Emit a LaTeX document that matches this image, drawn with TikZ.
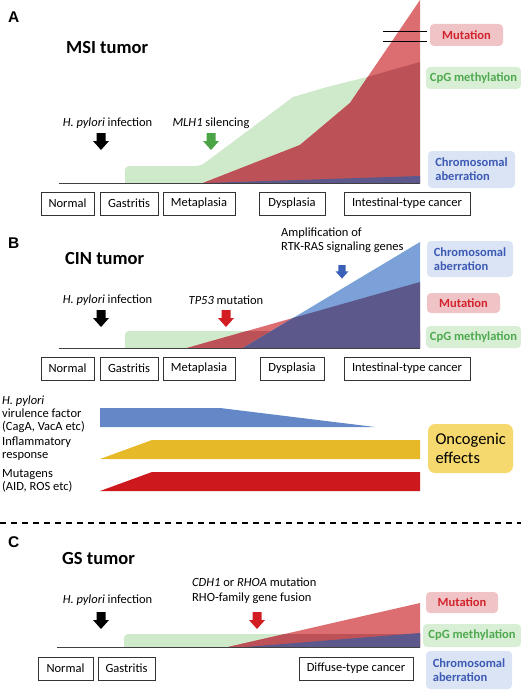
\documentclass[tikz,border=0pt]{standalone}
\usepackage{fontspec}
\setmainfont{Carlito}
\newfontfamily\panelfont{Liberation Sans}
\definecolor{mutfill}{HTML}{DC6E72}
\definecolor{mutdark}{HTML}{BC5257}
\definecolor{cpgfill}{HTML}{CFEACA}
\definecolor{chrlight}{HTML}{7CA0D8}
\definecolor{chrdark}{HTML}{5C588C}
\definecolor{muttagfill}{HTML}{F0C4C6}
\definecolor{muttext}{HTML}{D2232D}
\definecolor{cpgtagfill}{HTML}{D8EED5}
\definecolor{cpgtext}{HTML}{4FA94F}
\definecolor{chrtagfill}{HTML}{DAE4F5}
\definecolor{chrtext}{HTML}{3C5AB4}
\definecolor{arrgreen}{HTML}{4BA546}
\definecolor{arrred}{HTML}{D21E23}
\definecolor{arrblue}{HTML}{3A60B8}
\definecolor{bandblue}{HTML}{6487C8}
\definecolor{bandyellow}{HTML}{E6B928}
\definecolor{bandred}{HTML}{CD191E}
\definecolor{oncofill}{HTML}{F5D86E}
\definecolor{axisgray}{HTML}{404040}
\tikzset{
  stagebox/.style={draw=black!80, line width=0.9pt, minimum height=23pt, inner sep=0pt, font=\fontsize{12.5}{14}\selectfont},
  tagbox/.style={rounded corners=4pt, inner sep=0pt, font=\bfseries\fontsize{12.5}{14}\selectfont},
  muttag/.style={tagbox, fill=muttagfill, text=muttext},
  cpgtag/.style={tagbox, fill=cpgtagfill, text=cpgtext},
  chrtag/.style={tagbox, fill=chrtagfill, text=chrtext, align=left},
  lbl/.style={font=\fontsize{12.5}{14}\selectfont, inner sep=0pt},
  sidelbl/.style={font=\fontsize{12.5}{12.8}\selectfont, inner sep=0pt, anchor=west, align=left},
  titlelbl/.style={font=\bfseries\fontsize{18.5}{20}\selectfont, anchor=west, inner sep=0pt},
  panellbl/.style={font=\panelfont\bfseries\fontsize{15.5}{17}\selectfont, anchor=west, inner sep=0pt},
  axisline/.style={draw=axisgray, line width=1pt},
  sepline/.style={dashed, dash pattern=on 6pt off 5pt, line width=1.4pt},
  pics/darrow/.style={code={\fill[#1] (-4.5,0) -- (4.5,0) -- (4.5,8) -- (8,8) -- (0,17) -- (-8,8) -- (-4.5,8) -- cycle;}}
}
\begin{document}
\begin{tikzpicture}[x=1pt,y=-1pt]
\useasboundingbox (0,0) rectangle (521,690);
% ================= Panel A =================
\fill[cpgfill] (125,183) -- (125,170) arc[start angle=180,end angle=270,radius=4] -- (194,166) .. controls (199,166) and (202,165) .. (206,162) -- (293,97) -- (327,87) -- (367,77) -- (420,62) -- (420,183) -- cycle;
\fill[mutfill] (203,183) -- (300,145) -- (350,103) -- (420,0) -- (420,183) -- cycle;
\begin{scope}
  \clip (125,183) -- (125,166) -- (194,166) .. controls (199,166) and (202,165) .. (206,162) -- (293,97) -- (327,87) -- (367,77) -- (420,62) -- (420,183) -- cycle;
  \fill[mutdark] (203,183) -- (300,145) -- (350,103) -- (420,0) -- (420,183) -- cycle;
\end{scope}
\fill[chrdark] (205,183) -- (420,176) -- (420,183) -- cycle;
\draw[axisline] (59,183) -- (420,183);
\draw[line width=1pt] (383,32) -- (427,32);
\draw[line width=1pt] (383,42) -- (427,42);
\node[panellbl] (pA) at (8,17.5) {A};
\node[titlelbl] (tA) at (66,48) {MSI tumor};
\node[lbl] (hpA) at (107.5,123) {\textit{H. pylori} infection};
\node[lbl] (mlh) at (211,123) {\textit{MLH1} silencing};
\pic at (101,133) {darrow=black};
\pic at (211,133) {darrow=arrgreen};
\node[stagebox, minimum width=53pt] (nA) at (67.5,203.5) {Normal};
\node[stagebox, minimum width=58pt] (gA) at (129,203.5) {Gastritis};
\node[stagebox, minimum width=72pt] (mA) at (199,203.5) {Metaplasia};
\node[stagebox, minimum width=66pt] (dA) at (292,203.5) {Dysplasia};
\node[stagebox, minimum width=126pt] (iA) at (407,203.5) {Intestinal-type cancer};
\node[muttag, minimum width=73pt, minimum height=22pt] (mutA) at (466.5,35) {Mutation};
\node[cpgtag, minimum width=95pt, minimum height=22pt] (cpgA) at (473.5,78) {CpG methylation};
\node[chrtag, minimum width=87pt, minimum height=37pt] (chrA) at (471.5,169.5) {Chromosomal\\aberration};
% ================= Panel B =================
\fill[cpgfill] (125,348) -- (125,335) arc[start angle=180,end angle=270,radius=4] -- (420,331) -- (420,348) -- cycle;
\fill[mutfill] (187,348) -- (420,282) -- (420,348) -- cycle;
\begin{scope}
  \clip (125,348) -- (125,331) -- (420,331) -- (420,348) -- cycle;
  \fill[mutdark] (187,348) -- (420,282) -- (420,348) -- cycle;
\end{scope}
\fill[chrlight] (243,348) -- (420,242) -- (420,348) -- cycle;
\begin{scope}
  \clip (187,348) -- (420,282) -- (420,348) -- cycle;
  \fill[chrdark] (243,348) -- (420,242) -- (420,348) -- cycle;
\end{scope}
\draw[axisline] (59,348) -- (420,348);
\node[panellbl] (pB) at (8,243) {B};
\node[titlelbl] (tB) at (65,259) {CIN tumor};
\node[lbl] (hpB) at (107.5,300) {\textit{H. pylori} infection};
\node[lbl] (tp53) at (226,300) {\textit{TP53} mutation};
\node[lbl, anchor=west, align=left, font=\fontsize{12.5}{14}\selectfont] (amp) at (281,240) {Amplification of\\RTK-RAS signaling genes};
\pic at (101,310) {darrow=black};
\pic at (226,310) {darrow=arrred};
\pic[scale=0.8] at (342,265) {darrow=arrblue};
\node[stagebox, minimum width=53pt] (nB) at (67.5,368.5) {Normal};
\node[stagebox, minimum width=58pt] (gB) at (129,368.5) {Gastritis};
\node[stagebox, minimum width=72pt] (mB) at (199,368.5) {Metaplasia};
\node[stagebox, minimum width=64pt] (dB) at (292,368.5) {Dysplasia};
\node[stagebox, minimum width=126pt] (iB) at (407,368.5) {Intestinal-type cancer};
\node[chrtag, minimum width=86pt, minimum height=36pt] (chrB) at (470,259) {Chromosomal\\aberration};
\node[muttag, minimum width=73pt, minimum height=20pt] (mutB) at (463.5,303) {Mutation};
\node[cpgtag, minimum width=95pt, minimum height=22pt] (cpgB) at (473.5,337) {CpG methylation};
% ================= Bands =================
\fill[bandblue] (100,408) -- (220,408) -- (375,427) -- (100,427) -- cycle;
\fill[bandyellow] (100,459) -- (152,440) -- (420,440) -- (420,459) -- cycle;
\fill[bandred] (100,491) -- (152,472) -- (420,472) -- (420,491) -- cycle;
\node[sidelbl] (vir) at (2,414.5) {\textit{H. pylori}\\virulence factor\\(CagA, VacA etc)};
\node[sidelbl] (inf) at (2,449) {Inflammatory\\response};
\node[sidelbl] (mutg) at (2,480.5) {Mutagens\\(AID, ROS etc)};
\node[fill=oncofill, rounded corners=7pt, minimum width=85pt, minimum height=49pt, inner sep=0pt, text width=70pt, align=left, font=\fontsize{16.5}{19}\selectfont] (onco) at (470.5,448.5) {Oncogenic\\effects};
% ================= Separator =================
\draw[sepline] (0,523) -- (521,523);
% ================= Panel C =================
\fill[cpgfill] (124,647) -- (124,638) arc[start angle=180,end angle=270,radius=4] -- (420,634) -- (420,647) -- cycle;
\fill[mutfill] (228,647) -- (420,603) -- (420,647) -- cycle;
\begin{scope}
  \clip (124,647) -- (124,634) -- (420,634) -- (420,647) -- cycle;
  \fill[mutdark] (228,647) -- (420,603) -- (420,647) -- cycle;
\end{scope}
\fill[chrdark] (245,647) -- (420,633) -- (420,647) -- cycle;
\draw[axisline] (57,647) -- (420,647);
\node[panellbl] (pC) at (8,542.5) {C};
\node[titlelbl] (tC) at (62,558) {GS tumor};
\node[lbl] (hpC) at (107.5,600) {\textit{H. pylori} infection};
\node[lbl, anchor=west, align=left, font=\fontsize{12.5}{15}\selectfont] (cdh) at (192,590.5) {\textit{CDH1} or \textit{RHOA} mutation\\RHO-family gene fusion};
\pic at (101,612) {darrow=black};
\pic at (257,612) {darrow=arrred};
\node[stagebox, minimum width=55pt] (nC) at (65.5,668.5) {Normal};
\node[stagebox, minimum width=57pt] (gC) at (126.5,668.5) {Gastritis};
\node[stagebox, minimum width=114pt] (dfC) at (356,668.5) {Diffuse-type cancer};
\node[muttag, minimum width=72pt, minimum height=21pt] (mutC) at (462,602.5) {Mutation};
\node[cpgtag, minimum width=98pt, minimum height=23pt] (cpgC) at (472,635.5) {CpG methylation};
\node[chrtag, minimum width=86pt, minimum height=38pt] (chrC) at (469,670) {Chromosomal\\aberration};
\end{tikzpicture}
\end{document}
